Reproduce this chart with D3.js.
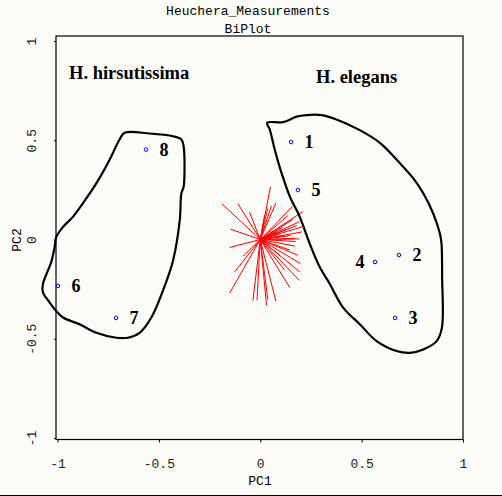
<!DOCTYPE html>
<html>
<head>
<meta charset="utf-8">
<script src="https://cdn.jsdelivr.net/npm/d3@7"></script>
<style>
  body { margin: 0; background: #fbfbf8; }
  svg { display: block; }
</style>
</head>
<body>
<div id="chart"></div>
<script>
// Sample scores on PC1 / PC2
const sampleIds = ["1", "2", "3", "4", "5", "6", "7", "8"];
const pc1Scores = [0.152, 0.684, 0.665, 0.566, 0.186, -0.998, -0.711, -0.563];
const pc2Scores = [0.491, -0.078, -0.395, -0.113, 0.249, -0.234, -0.395, 0.453];

// Variable loadings (red rays from the origin)
const loadPC1 = [0.050, -0.189, -0.110, 0.055, 0.077, -0.053, -0.146, -0.151, 0.159, 0.211,
                 0.195, 0.211, 0.205, 0.170, 0.198, 0.195, 0.146, 0.077, 0.031, -0.036,
                 -0.151, -0.126, -0.085, 0.185, 0.169, 0.193, 0.120, 0.180, 0.136, 0.110,
                 0.022, 0.037, -0.016, 0.037, 0.193, 0.121, 0.096, 0.146, 0.100, 0.130,
                 0.150, 0.160, 0.080, 0.175];
const loadPC2 = [0.265, 0.180, 0.180, 0.170, 0.184, 0.138, 0.052, -0.040, 0.166, 0.141,
                 0.090, 0.065, 0.038, -0.033, -0.121, -0.163, -0.243, -0.311, -0.332, -0.307,
                 -0.270, -0.163, -0.084, -0.079, 0.006, 0.003, 0.020, 0.070, 0.120, 0.060,
                 0.124, 0.155, -0.307, -0.302, -0.206, -0.155, -0.079, -0.053, 0.030, 0.050,
                 0.020, 0.100, 0.040, -0.010];

// Hand-drawn group outlines (PC1, PC2)
const elegansOutline = [
  [0.034, 0.588], [0.113, 0.591], [0.179, 0.619], [0.228, 0.627], [0.302, 0.627],
  [0.376, 0.605], [0.491, 0.551], [0.590, 0.487], [0.688, 0.385], [0.754, 0.309],
  [0.804, 0.233], [0.853, 0.131], [0.886, 0.030], [0.894, -0.021], [0.897, -0.190],
  [0.896, -0.444], [0.870, -0.512], [0.804, -0.554], [0.738, -0.571], [0.672, -0.562],
  [0.574, -0.512], [0.491, -0.427], [0.409, -0.343], [0.343, -0.224], [0.294, -0.140],
  [0.244, -0.021], [0.195, 0.114], [0.146, 0.216], [0.105, 0.335], [0.072, 0.451],
  [0.047, 0.554]
];
const hirsutOutline = [
  [-0.669, 0.538], [-0.545, 0.534], [-0.430, 0.520], [-0.389, 0.504], [-0.378, 0.470],
  [-0.378, 0.266], [-0.389, 0.233], [-0.397, 0.097], [-0.430, -0.106], [-0.480, -0.258],
  [-0.537, -0.393], [-0.595, -0.470], [-0.653, -0.495], [-0.710, -0.495], [-0.808, -0.470],
  [-0.891, -0.427], [-0.973, -0.393], [-1.014, -0.351], [-1.039, -0.317], [-1.072, -0.266],
  [-1.072, -0.224], [-1.047, -0.156], [-1.031, -0.114], [-1.014, -0.038], [-1.006, 0.013],
  [-0.973, 0.063], [-0.924, 0.114], [-0.875, 0.182], [-0.808, 0.284], [-0.743, 0.402],
  [-0.694, 0.504]
];

const groupNames = ["H. hirsutissima", "H. elegans"];
const xTicks = [-1, -0.5, 0, 0.5, 1];
const yTicks = [-1, -0.5, 0, 0.5, 1];

const W = 502, H = 496;
const box = { left: 56, right: 463, top: 36, bottom: 439.5 };
const mono = "'Liberation Mono', 'DejaVu Sans Mono', monospace";
const serif = "'Liberation Serif', 'DejaVu Serif', serif";

const svg = d3.select("#chart").append("svg")
    .attr("width", W)
    .attr("height", H);

svg.append("rect").attr("width", W).attr("height", H).attr("fill", "#fbfbf8");

const x = d3.scaleLinear().domain([-1, 1]).range([57.5, 463]);
const y = d3.scaleLinear().domain([-1, 1]).range([438, 41]);

// titles
svg.append("text")
    .attr("x", 248).attr("y", 15)
    .attr("text-anchor", "middle")
    .style("font-family", mono).style("font-size", "13px")
    .text("Heuchera_Measurements");

svg.append("text")
    .attr("x", 248).attr("y", 33)
    .attr("text-anchor", "middle")
    .style("font-family", mono).style("font-size", "13px")
    .text("BiPlot");

// axes
const xAxis = svg.append("g")
    .attr("transform", `translate(0,${box.bottom})`)
    .call(d3.axisBottom(x).tickValues(xTicks).tickSize(3).tickPadding(16)
        .tickFormat(d => String(d)));
xAxis.select(".domain").remove();
xAxis.selectAll("text")
    .style("font-family", mono).style("font-size", "13px").attr("fill", "#222");

const yAxis = svg.append("g")
    .attr("transform", `translate(${box.left},0)`)
    .call(d3.axisLeft(y).tickValues(yTicks).tickSize(2).tickFormat(d => String(d)));
yAxis.select(".domain").remove();
yAxis.selectAll("text")
    .attr("x", null).attr("dy", null)
    .attr("text-anchor", "middle")
    .attr("transform", "translate(-20,0) rotate(-90)")
    .style("font-family", mono).style("font-size", "13px").attr("fill", "#222");

svg.append("text")
    .attr("x", 260).attr("y", 485)
    .attr("text-anchor", "middle")
    .style("font-family", mono).style("font-size", "13px")
    .text("PC1");

svg.append("text")
    .attr("transform", "translate(21,240) rotate(-90)")
    .attr("text-anchor", "middle")
    .style("font-family", mono).style("font-size", "13px")
    .text("PC2");

// loading rays
svg.append("g").selectAll("line")
    .data(loadPC1.map((v, i) => [v, loadPC2[i]]))
    .enter()
    .append("line")
    .attr("x1", x(0)).attr("y1", y(0))
    .attr("x2", d => x(d[0])).attr("y2", d => y(d[1]))
    .attr("stroke", "#ff0000")
    .attr("stroke-width", 1);

// plot frame
svg.append("rect")
    .attr("x", box.left).attr("y", box.top)
    .attr("width", box.right - box.left).attr("height", box.bottom - box.top)
    .attr("fill", "none").attr("stroke", "#000").attr("stroke-width", 1.2);

// group outlines
const outline = d3.line()
    .x(d => x(d[0])).y(d => y(d[1]))
    .curve(d3.curveCatmullRomClosed.alpha(0.5));

svg.selectAll("path.hull")
    .data([hirsutOutline, elegansOutline])
    .enter()
    .append("path")
    .attr("class", "hull")
    .attr("d", outline)
    .attr("fill", "none")
    .attr("stroke", "#000")
    .attr("stroke-width", 2.2);

// sample points and ids
const samples = sampleIds.map((id, i) => ({ id, pc1: pc1Scores[i], pc2: pc2Scores[i] }));

svg.selectAll("circle.pt")
    .data(samples)
    .enter()
    .append("circle")
    .attr("class", "pt")
    .attr("cx", d => x(d.pc1)).attr("cy", d => y(d.pc2))
    .attr("r", 1.8)
    .attr("fill", "none")
    .attr("stroke", "#0000ff")
    .attr("stroke-width", 1);

svg.selectAll("text.id")
    .data(samples)
    .enter()
    .append("text")
    .attr("class", "id")
    .attr("x", d => x(d.pc1) + (d.id === "4" ? -15 : 18))
    .attr("y", d => y(d.pc2) + 6)
    .attr("text-anchor", "middle")
    .style("font-family", serif).style("font-size", "18px").style("font-weight", "bold")
    .text(d => d.id);

// group names
svg.append("text")
    .attr("x", 69).attr("y", 79)
    .style("font-family", serif).style("font-size", "18.5px").style("font-weight", "bold")
    .text(groupNames[0]);

svg.append("text")
    .attr("x", 316).attr("y", 83)
    .style("font-family", serif).style("font-size", "18.5px").style("font-weight", "bold")
    .text(groupNames[1]);

// window edge at the bottom
svg.append("line")
    .attr("x1", 0).attr("x2", W).attr("y1", 495.5).attr("y2", 495.5)
    .attr("stroke", "#000").attr("stroke-width", 1);
</script>
</body>
</html>
